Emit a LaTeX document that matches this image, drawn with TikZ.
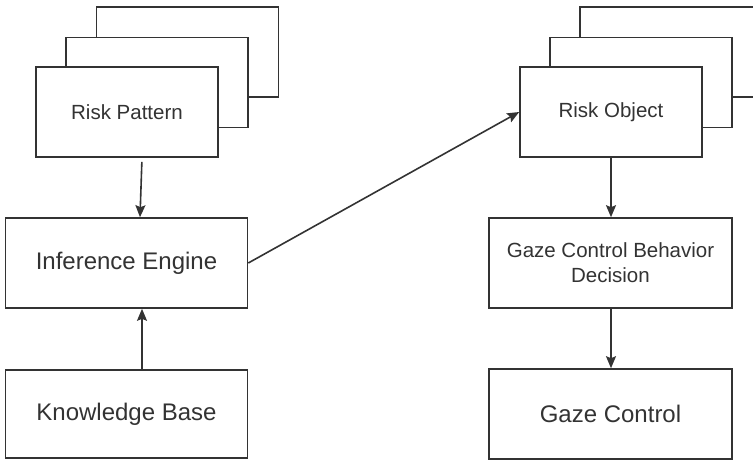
\documentclass[tikz,border=0pt]{standalone}
\usepackage{fontspec}
\setmainfont{Liberation Sans}
\usetikzlibrary{arrows.meta}
\definecolor{ink}{HTML}{333333}
\begin{document}
\begin{tikzpicture}[x=1pt,y=-1pt,
  box/.style={draw=ink, line width=1.6pt, fill=white, text=ink, inner sep=0pt,
    align=center, anchor=center},
  small/.style={box, minimum width=182pt, minimum height=90pt, font=\fontsize{20.5}{25}\selectfont},
  wide/.style={box, minimum width=242pt, minimum height=90pt, font=\fontsize{24}{29}\selectfont},
  mid/.style={box, minimum width=243pt, minimum height=90pt, font=\fontsize{20.5}{25}\selectfont},
  link/.style={draw=ink, line width=1.6pt, -{Stealth[length=12pt,width=10pt,inset=2pt]}}]
\useasboundingbox (0,0) rectangle (753,461);
\clip (0,0) rectangle (753,461);

% stacked pattern cards
\node[small] (rp3) at (187.5,52) {};
\node[small] (rp2) at (157,82.5) {};
\node[small] (rp) at (127,112) {Risk Pattern};

% stacked object cards
\node[small] (ro3) at (671,52) {};
\node[small] (ro2) at (641,82.5) {};
\node[small] (ro) at (611,112) {Risk Object};

% left column
\node[wide] (ie) at (126.5,263) {Inference Engine};
\node[wide, minimum height=88pt] (kb) at (126.5,414) {Knowledge Base};

% right column
\node[mid] (gd) at (610.5,263) {Gaze Control Behavior\\Decision};
\node[mid, font=\fontsize{24}{29}\selectfont] (gc) at (610.5,414) {Gaze Control};

% connectors
\draw[link, shorten <=4pt] ([xshift=15pt]rp.south) -- ([xshift=13.5pt]ie.north);
\draw[link] ([xshift=15.5pt]kb.north) -- ([xshift=15.5pt]ie.south);
\draw[link] (ie.east) -- (ro.west);
\draw[link] (ro.south) -- ([xshift=0.5pt]gd.north);
\draw[link] ([xshift=0.5pt]gd.south) -- ([xshift=0.5pt]gc.north);
\end{tikzpicture}
\end{document}
